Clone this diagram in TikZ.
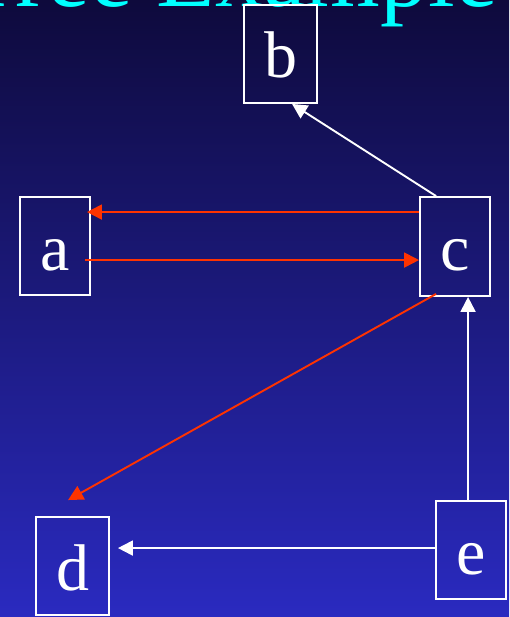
\documentclass[tikz,border=0pt]{standalone}
\usepackage{fontspec}
\setmainfont{Liberation Serif}
\usetikzlibrary{arrows.meta,calc}
\definecolor{bgtop}{RGB}{14,10,60}
\definecolor{bgbot}{RGB}{42,42,192}
\definecolor{redline}{RGB}{255,51,0}
\definecolor{titlecyan}{RGB}{0,255,255}
\tikzset{
  vbox/.style={draw=white, line width=1.9pt, minimum width=70pt, minimum height=98pt,
    inner sep=0pt, text=white, font=\fontsize{66}{70}\selectfont,
    text height=62pt, text depth=14pt},
  whitearrow/.style={draw=white, line width=1.9pt, -{Triangle[length=15pt,width=15pt]}},
  redarrow/.style={draw=redline, line width=1.9pt, -{Triangle[length=15pt,width=15pt]}},
}
\begin{document}
\begin{tikzpicture}[x=1pt,y=-1pt]
\useasboundingbox (0,0) rectangle (509,617);
\clip (0,0) rectangle (509,617);
\shade[top color=bgtop, bottom color=bgbot] (0,0) rectangle (509,617);
\node[anchor=base west, inner sep=0pt, text=titlecyan, font=\fontsize{96}{100}\selectfont] (title) at (-40,7) {Tree Example};
\node[vbox, minimum width=73pt] (b) at (280.5,54) {b};
\node[vbox] (a) at (55,246) {a};
\node[vbox, minimum height=99pt] (c) at (455,246.5) {c};
\node[vbox, minimum width=73pt] (d) at (72.5,566) {d};
\node[vbox] (e) at (471,550) {e};
\draw[whitearrow] ($(c.north west)+(17,0)$) -- ($(b.south west)+(49,0)$);
\draw[redarrow] ($(c.north west)+(0,16)$) -- ($(a.north east)+(-4,16)$);
\draw[redarrow] ($(a.north east)+(-6,64)$) -- ($(c.north west)+(0,64)$);
\draw[redarrow] ($(c.south west)+(17,-3)$) -- ($(d.north west)+(33,-16)$);
\draw[whitearrow] ($(e.north west)+(33,0)$) -- ($(c.south west)+(49,0)$);
\draw[whitearrow] ($(e.north west)+(0,48)$) -- ($(d.north east)+(8,32)$);
\end{tikzpicture}
\end{document}
